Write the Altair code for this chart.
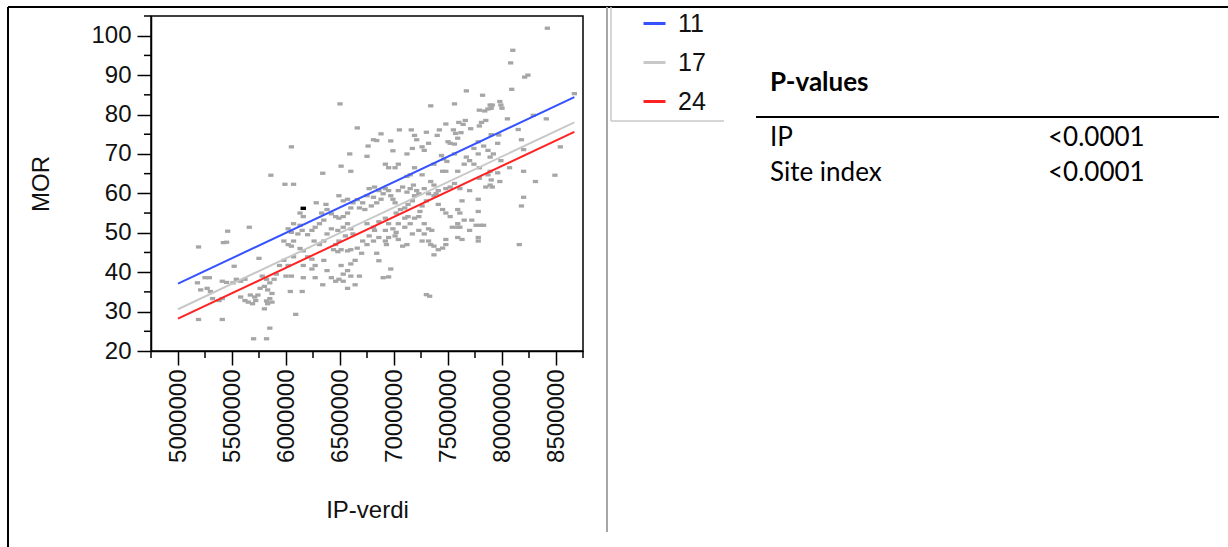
import altair as alt
import pandas as pd

# ---------------- data ----------------
# (IP-verdi in millions, MOR) pairs, grouped by region of the plot
pts_top = [(8.42,101.9),(8.10,96.3),(8.08,93.1),(8.21,89.5),(8.24,90.0),(8.09,86.4),(7.67,86.0),
           (7.82,84.9),(8.67,85.3),(7.34,82.2),(7.56,82.7),(6.50,82.7),(7.89,82.4),(7.91,82.4),
           (7.90,81.6),(7.98,83.3),(7.99,82.4),(8.00,81.6),(7.79,81.1),(7.84,80.9),(7.87,81.4),
           (8.29,79.8),(8.41,78.9),(8.05,78.9),(7.60,78.0),(7.66,78.5),(7.64,77.5),(7.81,78.0),
           (7.85,78.5),(7.79,77.1),(7.48,77.6),(7.55,76.1),(7.57,75.2),(6.66,76.6),(7.05,76.1),
           (7.16,76.1),(7.30,75.5),(7.42,76.1),(7.40,74.7),(7.71,76.4),(7.90,74.9),(7.97,74.8),
           (6.88,75.1),(6.81,73.6),(6.84,73.4),(6.97,73.3),(7.19,74.7),(7.21,73.6),(7.50,73.1),
           (7.52,72.7),(7.56,72.5),(7.62,75.4),(7.59,74.0),(7.78,73.1),(7.83,72.0),(7.87,70.9),
           (7.74,71.4),(7.78,70.0),(7.96,72.7),(8.15,76.2),(8.18,73.6),(8.20,71.1),(8.54,71.8)]
pts_upper_mid = [(6.05,71.8),(6.76,72.0),(6.59,70.0),(6.75,69.4),(6.99,70.8),(7.12,70.0),(7.17,71.4),
                 (7.26,71.8),(7.28,70.9),(7.32,72.7),(7.44,69.6),(7.46,68.7),(7.49,68.1),(7.37,67.4),
                 (7.56,70.0),(7.67,69.2),(7.70,68.3),(7.89,69.2),(7.92,70.0),(7.99,68.3),(6.51,66.9),
                 (6.60,65.6),(6.92,67.4),(6.95,66.5),(7.01,66.5),(7.04,67.4),(7.19,66.5),(7.26,64.7),
                 (7.45,65.6),(7.48,65.6),(7.59,65.6),(7.65,67.4),(7.74,67.4),(7.79,66.5),(7.89,65.6),
                 (7.96,65.2),(7.12,64.3),(7.15,64.7),(7.98,63.0),(8.07,66.5),(6.34,65.1),(5.86,64.6),
                 (5.99,62.3),(6.07,62.3),(8.20,65.6),(8.31,63.0),(8.49,64.6),(7.79,63.8),(7.87,64.7),
                 (7.90,63.4),(7.89,62.1),(7.91,61.6),(7.85,61.6),(7.78,58.5),(7.61,61.2),(7.70,60.7),
                 (7.48,61.2),(7.52,61.6),(7.56,62.5),(7.41,60.7),(7.39,59.9),(7.34,63.0),(7.37,62.1)]
pts_centre = [(6.77,61.2),(6.82,61.6),(6.86,60.7),(6.90,59.9),(6.92,61.2),(6.95,60.7),(6.97,59.4),
              (6.99,58.5),(7.01,57.6),(6.88,58.5),(6.84,57.6),(6.81,59.0),(6.75,59.4),(6.71,57.6),
              (6.68,56.3),(6.73,55.9),(6.79,56.8),(7.04,60.7),(7.08,61.6),(7.12,60.3),(7.15,61.2),
              (7.18,62.1),(7.21,60.7),(7.23,59.9),(7.19,59.4),(7.17,58.1),(7.13,57.2),(7.10,56.3),
              (7.06,55.9),(7.02,55.0),(7.28,61.2),(7.32,59.9),(7.30,58.1),(7.26,56.8),(7.24,55.4),
              (7.23,54.1),(7.19,53.7),(7.13,54.1),(7.10,53.7),(7.37,59.4),(7.41,57.2),(7.45,55.9),
              (7.48,55.0),(7.52,54.1),(7.59,55.9),(7.61,55.0),(7.63,58.1),(7.65,53.2),(7.72,53.2),
              (7.78,55.4),(7.83,51.9),(7.54,51.4),(7.59,52.3),(7.61,51.4)]
pts_left_mid = [(6.49,59.4),(6.53,58.1),(6.57,58.5),(6.62,57.6),(6.66,58.4),(6.60,56.3),(6.57,55.0),
                (6.53,54.1),(6.49,53.7),(6.46,54.1),(6.42,54.8),(6.38,55.9),(6.37,57.2),(6.33,55.0),
                (6.28,57.6),(6.35,53.2),(6.31,52.3),(6.27,51.4),(6.24,50.6),(6.20,49.5),(6.26,47.9),
                (6.31,47.0),(6.35,47.9),(6.38,49.7),(6.42,51.0),(6.48,50.6),(6.53,51.4),(6.57,52.3),
                (6.60,51.0),(6.62,49.7),(6.55,49.2),(6.49,47.9),(6.46,47.0),(6.44,45.7),(6.48,45.2),
                (6.51,45.7),(6.57,45.4),(6.60,45.7),(6.66,46.1),(6.70,44.8),(6.07,52.3),(6.13,51.9),
                (6.15,50.6),(6.11,49.7),(6.05,50.1),(6.02,51.0),(6.16,54.1),(6.13,55.0),(5.98,47.9),
                (6.02,47.0),(6.07,47.9),(6.13,46.0),(6.16,45.4),(6.20,43.9),(6.24,43.3),(6.05,46.6)]
pts_low_mid = [(6.75,52.3),(6.81,51.4),(6.86,52.8),(6.92,53.7),(6.95,52.3),(6.99,51.0),(7.02,50.1),
               (7.04,52.3),(7.10,51.4),(7.15,52.3),(6.82,50.6),(6.77,49.2),(6.71,47.9),(6.75,47.0),
               (6.81,47.9),(6.86,48.8),(6.92,47.9),(6.95,48.8),(7.01,49.2),(7.04,48.3),(6.92,50.6),
               (6.93,47.0),(7.28,52.3),(7.32,51.0),(7.35,50.6),(7.28,49.7),(7.32,47.9),(7.34,47.0),
               (7.37,46.6),(7.41,45.7),(7.45,46.1),(7.48,47.0),(7.37,44.4),(7.17,49.7),(7.12,47.0),
               (7.26,47.9),(7.23,50.6),(7.78,48.8),(7.78,47.9),(7.63,48.3),(7.70,50.6),(7.59,51.4),
               (6.84,44.8),(6.86,42.9),(6.97,40.8),(6.95,38.8),(6.90,38.6),(7.08,46.6),(7.30,34.3),
               (7.33,33.9),(8.16,47.0),(8.20,59.0),(8.18,56.8),(7.76,51.9),(7.80,51.9),(7.59,48.8),
               (7.48,48.3)]
pts_low_left = [(5.19,46.4),(5.46,50.4),(5.45,47.6),(5.42,47.5),(5.66,51.4),(5.75,43.5),(5.52,41.5),
                (5.29,38.6),(5.25,38.6),(5.18,37.3),(5.21,35.5),(5.27,35.9),(5.30,35.1),(5.32,33.3),
                (5.38,32.8),(5.41,33.3),(5.41,37.7),(5.45,37.4),(5.51,37.3),(5.54,38.2),(5.58,37.7),
                (5.62,38.2),(5.58,33.7),(5.62,32.8),(5.65,32.4),(5.69,32.0),(5.72,32.8),(5.71,33.7),
                (5.74,34.2),(5.67,34.2),(5.76,35.9),(5.80,36.4),(5.83,35.5),(5.87,34.6),(5.85,33.3),
                (5.83,32.0),(5.87,32.4),(5.82,32.7),(5.78,39.0),(5.82,38.2),(5.85,37.3),(5.89,38.2),
                (5.91,39.5),(5.94,41.7),(5.98,43.0),(6.02,41.7),(6.07,43.9),(6.00,39.0),(6.05,39.0),
                (6.04,35.1),(6.15,35.1),(6.09,29.3),(5.80,30.7),(5.19,28.0),(5.41,28.0),(5.85,25.8),
                (5.70,23.1),(5.82,23.1),(6.16,41.7),(6.24,40.8),(6.16,38.6),(6.27,38.6),(6.27,41.7),
                (6.35,43.0),(6.38,40.4),(6.34,36.8),(6.42,38.6),(6.46,37.7),(6.53,37.7),(6.49,38.2),
                (6.57,40.4),(6.60,39.0),(6.57,35.9),(6.64,36.8),(6.68,39.0),(6.64,43.0),(6.60,42.1),
                (6.51,41.7),(6.53,39.5)]
pts_highlight = [(6.16,56.2)]

# fitted lines for site index classes (endpoints)
site_index = ["11", "17", "24"]
line_ip_millions = [5.00, 8.67]
line_mor = {"11": [37.1, 84.4], "17": [30.6, 78.0], "24": [28.2, 75.6]}
line_colors = ["#3452ff", "#c8c8c8", "#ff2222"]

# axis ticks
x_major = [5000000, 5500000, 6000000, 6500000, 7000000, 7500000, 8000000, 8500000]
x_minor = [4750000, 5250000, 5750000, 6250000, 6750000, 7250000, 7750000, 8250000, 8750000]
y_major = [20, 30, 40, 50, 60, 70, 80, 90, 100]
y_minor = [25, 35, 45, 55, 65, 75, 85, 95, 105]

# p-value table
table_terms = ["IP", "Site index"]
table_pvalues = ["<0.0001", "<0.0001"]

# ---------------- build frames ----------------
all_pts = pts_top + pts_upper_mid + pts_centre + pts_left_mid + pts_low_mid + pts_low_left
df_pts = pd.DataFrame({"ip": [p[0] * 1_000_000 for p in all_pts], "mor": [p[1] for p in all_pts]})
df_hl = pd.DataFrame({"ip": [p[0] * 1_000_000 for p in pts_highlight], "mor": [p[1] for p in pts_highlight]})
rows = []
for s in site_index:
    for xv, yv in zip(line_ip_millions, line_mor[s]):
        rows.append({"ip": xv * 1_000_000, "mor": yv, "site": s})
df_lines = pd.DataFrame(rows)
df_xminor = pd.DataFrame({"ip": x_minor})
df_yminor = pd.DataFrame({"mor": y_minor})

FONT = "Liberation Sans"
TFONT = "Lato"
W, H = 432, 335

xscale = alt.Scale(domain=[4750000, 8750000], nice=False, zero=False)
yscale = alt.Scale(domain=[20, 105], nice=False, zero=False)

x_axis = alt.Axis(values=x_major, format="d", labelAngle=270, labelAlign="right",
                  labelBaseline="middle", labelPadding=4, tickSize=14, tickWidth=1.5,
                  labelFontSize=24, titleFontSize=24, titleFontWeight="normal",
                  titlePadding=36, labelOverlap=False, labelFlush=False, grid=False,
                  domainColor="black", domainWidth=1.5, tickColor="black", labelColor="#111",
                  titleColor="#111", labelFont=FONT, titleFont=FONT)
y_axis = alt.Axis(values=y_major, labelPadding=6, tickSize=14, tickWidth=1.5,
                  labelFontSize=24, titleFontSize=24, titleFontWeight="normal",
                  titlePadding=37, labelOverlap=False, labelFlush=False, grid=False,
                  domainColor="black", domainWidth=1.5, tickColor="black", labelColor="#111",
                  titleColor="#111", labelFont=FONT, titleFont=FONT)


def xe():
    return alt.X("ip:Q", scale=xscale, title="IP-verdi", axis=x_axis)


def ye():
    return alt.Y("mor:Q", scale=yscale, title="MOR", axis=y_axis)


rect_shape = "M-1,-0.62L1,-0.62L1,0.62L-1,0.62Z"

points = alt.Chart(df_pts).mark_point(shape=rect_shape, filled=True, size=28, color="#a6a6a6",
                                       opacity=1, strokeWidth=0).encode(x=xe(), y=ye())
highlight = alt.Chart(df_hl).mark_point(shape=rect_shape, filled=True, size=30, color="black",
                                         opacity=1, strokeWidth=0).encode(x=xe(), y=ye())

lines = alt.Chart(df_lines).mark_line(strokeWidth=2).encode(
    x=xe(), y=ye(),
    color=alt.Color("site:N", scale=alt.Scale(domain=site_index, range=line_colors),
                    legend=alt.Legend(title=None, orient="none", legendX=491, legendY=-5,
                                      padding=0, offset=0, labelFontSize=25, labelFont=FONT,
                                      labelColor="#111", symbolType="stroke", symbolSize=484,
                                      symbolStrokeWidth=3, rowPadding=13, labelOffset=11)),
)

xminor = alt.Chart(df_xminor).mark_rule(color="black", strokeWidth=1.5).encode(
    x=xe(), y=alt.value(H), y2=alt.value(H + 7))
yminor = alt.Chart(df_yminor).mark_rule(color="black", strokeWidth=1.5).encode(
    y=ye(), x=alt.value(-7), x2=alt.value(0))


# frame / separator lines of the surrounding figure
def hrule(x1, x2, y, color, w):
    return alt.Chart(pd.DataFrame({"k": [0]})).mark_rule(color=color, strokeWidth=w).encode(
        x=alt.value(x1), x2=alt.value(x2), y=alt.value(y))


def vrule(x, y1, y2, color, w):
    return alt.Chart(pd.DataFrame({"k": [0]})).mark_rule(color=color, strokeWidth=w).encode(
        x=alt.value(x), y=alt.value(y1), y2=alt.value(y2))


frames = [
    hrule(-143, 1077, -9, "black", 2),
    vrule(-143, -9, 531, "black", 2),
    vrule(456, -9, 516, "#a6a6a6", 2),
    vrule(460, -9, 105, "#c8c8c8", 1.5),
    hrule(460, 573, 105, "#c8c8c8", 1.5),
    hrule(605, 1068, 101, "black", 2),
]

texts = [alt.Chart(pd.DataFrame({"t": ["P-values"]})).mark_text(
    align="left", baseline="middle", font=TFONT, fontSize=26, fontWeight="bold", color="black"
).encode(text="t:N", x=alt.value(619), y=alt.value(67))]
for i, (term, pv) in enumerate(zip(table_terms, table_pvalues)):
    ypos = 122 + 35 * i
    texts.append(alt.Chart(pd.DataFrame({"t": [term]})).mark_text(
        align="left", baseline="middle", font=TFONT, fontSize=26, color="black"
    ).encode(text="t:N", x=alt.value(619), y=alt.value(ypos)))
    texts.append(alt.Chart(pd.DataFrame({"t": [pv]})).mark_text(
        align="left", baseline="middle", font=TFONT, fontSize=26, color="black"
    ).encode(text="t:N", x=alt.value(897), y=alt.value(ypos)))

chart = alt.layer(points, lines, highlight, xminor, yminor, *frames, *texts).properties(
    width=W, height=H,
    autosize=alt.AutoSizeParams(type="none"),
    padding={"left": 151, "top": 16, "right": 1228 - 151 - W, "bottom": 547 - 16 - H},
    background="white",
).configure_view(stroke="black", strokeWidth=1.5)

chart.save("out.html", embed_options={"renderer": "svg", "actions": False})
